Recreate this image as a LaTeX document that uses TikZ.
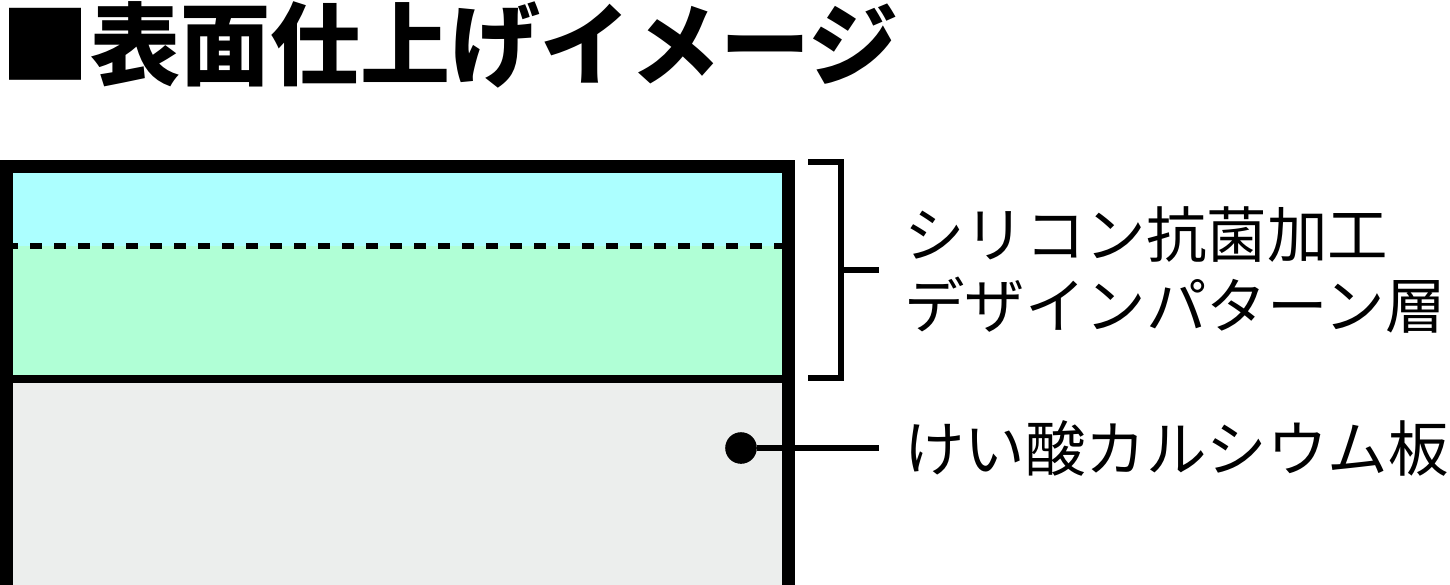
\documentclass[tikz,border=0pt]{standalone}
\usepackage{fontspec}
\newfontfamily\cjk{Noto Sans CJK JP}
\definecolor{coatcyan}{RGB}{172,255,255}
\definecolor{coatgreen}{RGB}{176,255,214}
\definecolor{boardgray}{RGB}{236,238,237}

\begin{document}
\begin{tikzpicture}[x=1pt,y=-1pt,
	lead/.style={line width=6pt},
	labeltext/.style={font=\cjk\fontsize{60.5}{71}\selectfont,anchor=west,inner xsep=25pt,inner ysep=0pt,align=left}]
\clip (0,0) rectangle (1450,585);

\fill[coatcyan] (6,166) rectangle (788,246);
\fill[coatgreen] (6,246) rectangle (788,378);
\fill[boardgray] (6,378) rectangle (788,620);
\draw[line width=6pt,dash pattern=on 12pt off 12pt] (6,245.7) -- (782,245.7);
\draw[line width=8pt] (6,378.5) -- (788,378.5);
\draw[line width=13pt] (6.5,620) -- (6.5,166.7) -- (788,166.7) -- (788,620);

\node[font=\cjk\bfseries\fontsize{90}{90}\selectfont,anchor=west,inner sep=0pt] (title) at (0,45) {■表面仕上げイメージ};

\coordinate (brtop) at (808,162);
\coordinate (brbot) at (808,378);
\coordinate (brmid) at (840.5,270);
\draw[lead] (brtop) -- ++(32.5,0) |- (brbot);
\node[labeltext] (layer) at (879,270) {シリコン抗菌加工\\デザインパターン層};
\draw[lead] (brmid) -- (layer.west);

\node[circle,fill,inner sep=0pt,minimum size=31.6pt] (dot) at (741,448) {};
\node[labeltext] (board) at (879,448) {けい酸カルシウム板};
\draw[lead] (dot) -- (board.west);

\end{tikzpicture}
\end{document}
